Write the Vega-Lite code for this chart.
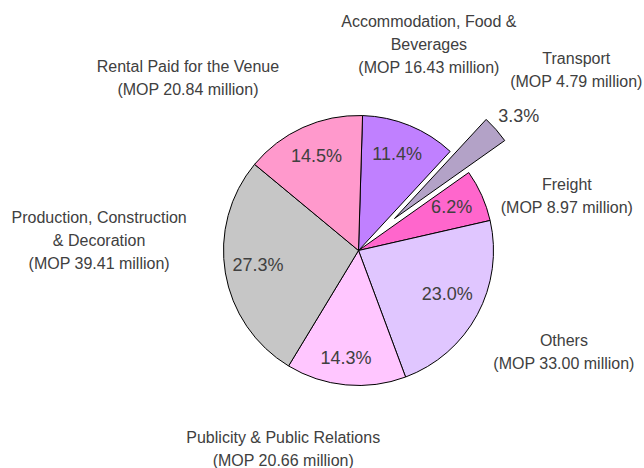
{
  "$schema": "https://vega.github.io/schema/vega-lite/v6.json",
  "width": 571,
  "height": 435,
  "autosize": {"type": "none"},
  "padding": {"left": 73, "top": 33, "right": 0, "bottom": 0},
  "background": "white",
  "config": {"view": {"stroke": null}},
  "data": {
    "values": [
      {"rank": 1, "cat": "Accommodation", "value": 16.43, "pct": "11.4%", "label": "Accommodation, Food &\nBeverages\n(MOP 16.43 million)"},
      {"rank": 2, "cat": "Transport", "value": 4.79, "pct": "3.3%", "label": "Transport\n(MOP 4.79 million)"},
      {"rank": 3, "cat": "Freight", "value": 8.97, "pct": "6.2%", "label": "Freight\n(MOP 8.97 million)"},
      {"rank": 4, "cat": "Others", "value": 33.00, "pct": "23.0%", "label": "Others\n(MOP 33.00 million)"},
      {"rank": 5, "cat": "Publicity", "value": 20.66, "pct": "14.3%", "label": "Publicity & Public Relations\n(MOP 20.66 million)"},
      {"rank": 6, "cat": "Production", "value": 39.41, "pct": "27.3%", "label": "Production, Construction\n& Decoration\n(MOP 39.41 million)"},
      {"rank": 7, "cat": "Rental", "value": 20.84, "pct": "14.5%", "label": "Rental Paid for the Venue\n(MOP 20.84 million)"}
    ]
  },
  "encoding": {
    "theta": {"field": "value", "type": "quantitative", "stack": true, "scale": {"range": [0.03, 6.31319]}},
    "order": {"field": "rank", "type": "quantitative"}
  },
  "layer": [
    {
      "mark": {"type": "arc", "radius": 135, "stroke": "#000000", "strokeWidth": 1},
      "encoding": {
        "color": {"field": "cat", "type": "nominal", "legend": null,
          "scale": {"domain": ["Accommodation", "Transport", "Freight", "Others", "Publicity", "Production", "Rental"],
                    "range": ["#C080FF", "#B3A2C7", "#FF66CC", "#E0C6FF", "#FFC6FF", "#C6C6C6", "#FF99CC"]}},
        "opacity": {"condition": {"test": "datum.cat === 'Transport'", "value": 0}, "value": 1}
      }
    },
    {
      "mark": {"type": "arc", "radius": 135, "stroke": "#000000", "strokeWidth": 1, "xOffset": 36, "yOffset": -32},
      "encoding": {
        "color": {"field": "cat", "type": "nominal", "legend": null},
        "opacity": {"condition": {"test": "datum.cat === 'Transport'", "value": 1}, "value": 0}
      }
    },
    {
      "mark": {"type": "text", "radius": 102, "dy": -1, "font": "Liberation Sans, Arial", "fontSize": 18, "fill": "#404040"},
      "encoding": {
        "text": {"condition": {"test": "datum.cat === 'Accommodation' || datum.cat === 'Freight' || datum.cat === 'Production' || datum.cat === 'Rental'", "field": "pct", "type": "nominal"}, "value": ""}
      }
    },
    {
      "mark": {"type": "text", "radius": 102, "dx": -1, "dy": -4, "font": "Liberation Sans, Arial", "fontSize": 18, "fill": "#404040"},
      "encoding": {
        "text": {"condition": {"test": "datum.cat === 'Others'", "field": "pct", "type": "nominal"}, "value": ""}
      }
    },
    {
      "mark": {"type": "text", "radius": 102, "dx": -3, "dy": 7, "font": "Liberation Sans, Arial", "fontSize": 18, "fill": "#404040"},
      "encoding": {
        "text": {"condition": {"test": "datum.cat === 'Publicity'", "field": "pct", "type": "nominal"}, "value": ""}
      }
    },
    {
      "mark": {"type": "text", "radius": 160, "xOffset": 36, "yOffset": -32, "dx": 4, "dy": 4, "font": "Liberation Sans, Arial", "fontSize": 18, "fill": "#404040"},
      "encoding": {
        "text": {"condition": {"test": "datum.cat === 'Transport'", "field": "pct", "type": "nominal"}, "value": ""}
      }
    },
    {
      "mark": {"type": "text", "radius": 215, "dx": -11, "dy": -29, "lineBreak": "\n", "lineHeight": 23, "font": "Liberation Sans, Arial", "fontSize": 16, "fill": "#404040"},
      "encoding": {"text": {"condition": {"test": "datum.cat === 'Accommodation'", "field": "label", "type": "nominal"}, "value": ""}}
    },
    {
      "mark": {"type": "text", "radius": 283, "dx": 5, "dy": -4.5, "lineBreak": "\n", "lineHeight": 23, "font": "Liberation Sans, Arial", "fontSize": 16, "fill": "#404040"},
      "encoding": {"text": {"condition": {"test": "datum.cat === 'Transport'", "field": "label", "type": "nominal"}, "value": ""}}
    },
    {
      "mark": {"type": "text", "radius": 215, "dx": 12, "dy": 22.5, "lineBreak": "\n", "lineHeight": 23, "font": "Liberation Sans, Arial", "fontSize": 16, "fill": "#404040"},
      "encoding": {"text": {"condition": {"test": "datum.cat === 'Freight'", "field": "label", "type": "nominal"}, "value": ""}}
    },
    {
      "mark": {"type": "text", "radius": 230, "dx": 3, "dy": -18.5, "lineBreak": "\n", "lineHeight": 23, "font": "Liberation Sans, Arial", "fontSize": 16, "fill": "#404040"},
      "encoding": {"text": {"condition": {"test": "datum.cat === 'Others'", "field": "label", "type": "nominal"}, "value": ""}}
    },
    {
      "mark": {"type": "text", "radius": 205, "dx": -56, "dy": -16.5, "lineBreak": "\n", "lineHeight": 23, "font": "Liberation Sans, Arial", "fontSize": 16, "fill": "#404040"},
      "encoding": {"text": {"condition": {"test": "datum.cat === 'Publicity'", "field": "label", "type": "nominal"}, "value": ""}}
    },
    {
      "mark": {"type": "text", "radius": 260, "dx": -3, "dy": -76, "lineBreak": "\n", "lineHeight": 23, "font": "Liberation Sans, Arial", "fontSize": 16, "fill": "#404040"},
      "encoding": {"text": {"condition": {"test": "datum.cat === 'Production'", "field": "label", "type": "nominal"}, "value": ""}}
    },
    {
      "mark": {"type": "text", "radius": 220, "dx": -80, "dy": 16.5, "lineBreak": "\n", "lineHeight": 23, "font": "Liberation Sans, Arial", "fontSize": 16, "fill": "#404040"},
      "encoding": {"text": {"condition": {"test": "datum.cat === 'Rental'", "field": "label", "type": "nominal"}, "value": ""}}
    }
  ]
}
